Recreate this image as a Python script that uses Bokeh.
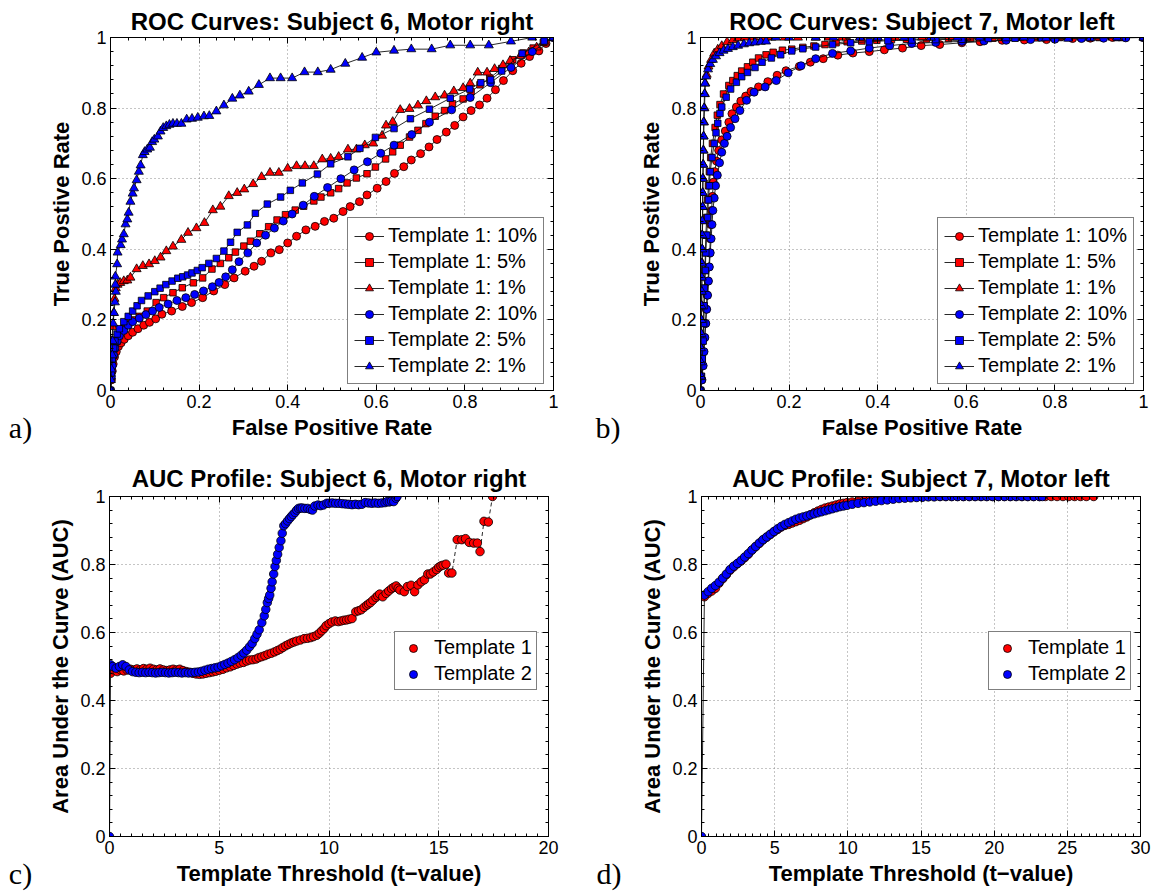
import numpy as np
from bokeh.plotting import figure
from bokeh.layouts import row, column
from bokeh.models import (Range1d, LinearAxis, FixedTicker, Legend, LegendItem, Title,
                          CustomLabelingPolicy)
from bokeh.embed import file_html
from bokeh.resources import INLINE

FONT = "Liberation Sans"
RED = "#ff0000"
BLUE = "#0000ff"

# ---------------- tick labels ----------------
ROC_TICKS = [0, 0.2, 0.4, 0.6, 0.8, 1]
ROC_TICK_LABELS = ["0", "0.2", "0.4", "0.6", "0.8", "1"]
AUC6_X_TICKS = [0, 5, 10, 15, 20]
AUC6_X_LABELS = ["0", "5", "10", "15", "20"]
AUC7_X_TICKS = [0, 5, 10, 15, 20, 25, 30]
AUC7_X_LABELS = ["0", "5", "10", "15", "20", "25", "30"]

ROC_LABELS = ["Template 1: 10%", "Template 1: 5%", "Template 1: 1%",
              "Template 2: 10%", "Template 2: 5%", "Template 2: 1%"]
AUC_LABELS = ["Template 1", "Template 2"]

# ---------------- a) ROC, Subject 6, Motor right  (FPR, TPR) ----------------
S6_T1_10 = [(0,0),(0.002,0.03),(0.004,0.055),(0.006,0.075),(0.009,0.095),(0.013,0.11),(0.018,0.125),(0.024,0.135),(0.031,0.145),(0.04,0.155),(0.05,0.165),(0.062,0.175),(0.075,0.185),(0.088,0.193),(0.102,0.203),(0.116,0.216),(0.138,0.225),(0.162,0.238),(0.183,0.249),(0.208,0.263),(0.233,0.282),(0.258,0.300),(0.279,0.319),(0.304,0.338),(0.324,0.352),(0.341,0.366),(0.362,0.390),(0.381,0.399),(0.400,0.418),(0.420,0.437),(0.441,0.455),(0.462,0.465),(0.483,0.479),(0.504,0.488),(0.525,0.507),(0.541,0.521),(0.562,0.535),(0.579,0.554),(0.602,0.573),(0.622,0.592),(0.641,0.615),(0.662,0.634),(0.679,0.653),(0.700,0.671),(0.719,0.690),(0.737,0.711),(0.758,0.732),(0.777,0.751),(0.796,0.775),(0.814,0.793),(0.833,0.809),(0.850,0.828),(0.869,0.852),(0.887,0.878),(0.908,0.906),(0.927,0.927),(0.946,0.946),(0.967,0.962),(0.983,0.983),(1.0,1.0)]
S6_T1_5 = [(0,0),(0.002,0.04),(0.004,0.07),(0.007,0.10),(0.01,0.12),(0.015,0.14),(0.02,0.155),(0.03,0.175),(0.04,0.19),(0.05,0.20),(0.065,0.21),(0.083,0.225),(0.103,0.249),(0.12,0.263),(0.141,0.277),(0.162,0.291),(0.187,0.305),(0.208,0.319),(0.229,0.344),(0.248,0.36),(0.267,0.376),(0.282,0.392),(0.301,0.409),(0.316,0.423),(0.337,0.444),(0.357,0.464),(0.376,0.483),(0.395,0.498),(0.417,0.511),(0.436,0.522),(0.459,0.537),(0.475,0.548),(0.497,0.560),(0.515,0.572),(0.534,0.588),(0.555,0.602),(0.579,0.614),(0.598,0.633),(0.621,0.656),(0.637,0.676),(0.654,0.695),(0.675,0.718),(0.694,0.737),(0.712,0.756),(0.733,0.777),(0.754,0.793),(0.772,0.812),(0.796,0.826),(0.814,0.846),(0.834,0.866),(0.856,0.885),(0.883,0.912),(0.908,0.937),(0.932,0.956),(0.954,0.970),(0.977,0.986),(1.0,1.0)]
S6_T1_1 = [(0,0),(0.001,0.04),(0.002,0.09),(0.003,0.14),(0.005,0.18),(0.007,0.22),(0.009,0.26),(0.012,0.29),(0.016,0.30),(0.022,0.305),(0.030,0.31),(0.038,0.312),(0.045,0.32),(0.059,0.344),(0.073,0.353),(0.087,0.358),(0.100,0.367),(0.113,0.377),(0.126,0.395),(0.141,0.408),(0.160,0.427),(0.175,0.447),(0.194,0.460),(0.212,0.475),(0.231,0.511),(0.248,0.521),(0.267,0.551),(0.286,0.560),(0.302,0.570),(0.322,0.585),(0.341,0.605),(0.360,0.617),(0.380,0.617),(0.400,0.629),(0.420,0.636),(0.439,0.636),(0.459,0.636),(0.478,0.655),(0.497,0.657),(0.515,0.662),(0.536,0.683),(0.555,0.683),(0.574,0.695),(0.593,0.700),(0.613,0.722),(0.622,0.751),(0.637,0.761),(0.654,0.795),(0.675,0.798),(0.694,0.808),(0.713,0.820),(0.733,0.831),(0.754,0.836),(0.775,0.848),(0.796,0.857),(0.812,0.870),(0.829,0.901),(0.850,0.901),(0.867,0.911),(0.886,0.922),(0.902,0.934),(0.925,0.948),(0.944,0.958),(0.962,0.972),(0.981,0.986),(1.0,1.0)]
S6_T2_10 = [(0,0),(0.002,0.04),(0.004,0.07),(0.007,0.10),(0.01,0.12),(0.015,0.14),(0.02,0.155),(0.03,0.17),(0.04,0.185),(0.05,0.195),(0.065,0.205),(0.08,0.215),(0.095,0.225),(0.11,0.235),(0.13,0.245),(0.15,0.255),(0.17,0.263),(0.19,0.272),(0.21,0.282),(0.23,0.294),(0.245,0.306),(0.26,0.322),(0.275,0.342),(0.29,0.365),(0.31,0.39),(0.33,0.418),(0.35,0.44),(0.37,0.46),(0.39,0.48),(0.41,0.50),(0.435,0.525),(0.46,0.55),(0.49,0.575),(0.52,0.60),(0.55,0.625),(0.58,0.648),(0.61,0.672),(0.64,0.695),(0.68,0.725),(0.72,0.76),(0.77,0.795),(0.812,0.83),(0.858,0.872),(0.904,0.915),(0.952,0.96),(1.0,1.0)]
S6_T2_5 = [(0,0),(0.002,0.05),(0.004,0.09),(0.007,0.12),(0.01,0.14),(0.015,0.16),(0.02,0.175),(0.03,0.195),(0.04,0.21),(0.05,0.225),(0.06,0.24),(0.07,0.255),(0.085,0.268),(0.1,0.28),(0.112,0.29),(0.125,0.30),(0.139,0.310),(0.152,0.318),(0.163,0.322),(0.174,0.327),(0.184,0.333),(0.196,0.34),(0.207,0.348),(0.222,0.36),(0.239,0.374),(0.256,0.395),(0.271,0.42),(0.286,0.448),(0.309,0.469),(0.327,0.502),(0.354,0.528),(0.384,0.548),(0.406,0.567),(0.433,0.588),(0.467,0.613),(0.497,0.642),(0.536,0.662),(0.563,0.686),(0.598,0.717),(0.640,0.742),(0.677,0.770),(0.72,0.797),(0.767,0.828),(0.811,0.854),(0.836,0.872),(0.858,0.88),(0.883,0.905),(0.929,0.955),(0.979,0.99),(1.0,1.0)]
S6_T2_1 = [(0,0),(0.001,0.03),(0.002,0.06),(0.004,0.10),(0.005,0.14),(0.006,0.19),(0.008,0.22),(0.010,0.25),(0.012,0.28),(0.011,0.30),(0.011,0.323),(0.015,0.358),(0.016,0.391),(0.023,0.412),(0.026,0.428),(0.030,0.443),(0.034,0.471),(0.038,0.485),(0.041,0.504),(0.045,0.535),(0.050,0.558),(0.053,0.573),(0.059,0.596),(0.064,0.620),(0.068,0.638),(0.073,0.667),(0.077,0.676),(0.083,0.683),(0.089,0.688),(0.094,0.704),(0.099,0.711),(0.107,0.720),(0.113,0.734),(0.119,0.744),(0.126,0.749),(0.133,0.753),(0.141,0.756),(0.150,0.756),(0.160,0.756),(0.172,0.768),(0.184,0.770),(0.197,0.773),(0.211,0.777),(0.223,0.778),(0.239,0.791),(0.256,0.808),(0.275,0.827),(0.292,0.836),(0.312,0.847),(0.335,0.866),(0.360,0.885),(0.384,0.885),(0.410,0.885),(0.438,0.902),(0.468,0.902),(0.497,0.909),(0.530,0.926),(0.568,0.943),(0.600,0.958),(0.640,0.963),(0.679,0.967),(0.725,0.967),(0.767,0.978),(0.812,0.978),(0.854,0.978),(0.904,0.989),(0.952,1.0),(1.0,1.0)]

# ---------------- b) ROC, Subject 7, Motor left ----------------
S7_T1_10 = [(0,0),(0.003,0.03),(0.005,0.07),(0.007,0.11),(0.009,0.15),(0.011,0.19),(0.013,0.23),(0.015,0.27),(0.017,0.31),(0.019,0.35),(0.021,0.39),(0.022,0.43),(0.023,0.47),(0.025,0.51),(0.027,0.55),(0.029,0.59),(0.032,0.62),(0.036,0.65),(0.041,0.68),(0.048,0.71),(0.056,0.735),(0.064,0.76),(0.071,0.784),(0.081,0.803),(0.091,0.82),(0.102,0.834),(0.114,0.847),(0.131,0.86),(0.152,0.875),(0.173,0.893),(0.193,0.906),(0.223,0.918),(0.248,0.93),(0.277,0.94),(0.310,0.95),(0.344,0.956),(0.381,0.96),(0.415,0.965),(0.456,0.97),(0.498,0.977),(0.540,0.98),(0.590,0.985),(0.631,0.988),(0.681,0.992),(0.731,0.993),(0.781,0.994),(0.84,0.997),(0.88,0.998),(0.93,1.0),(0.96,1.0),(1.0,1.0)]
S7_T1_5 = [(0,0),(0.002,0.04),(0.004,0.09),(0.005,0.14),(0.007,0.19),(0.008,0.24),(0.009,0.29),(0.010,0.34),(0.011,0.39),(0.012,0.44),(0.014,0.49),(0.016,0.54),(0.018,0.58),(0.020,0.62),(0.023,0.66),(0.027,0.70),(0.033,0.745),(0.038,0.78),(0.044,0.81),(0.052,0.84),(0.064,0.864),(0.073,0.878),(0.083,0.892),(0.093,0.905),(0.106,0.917),(0.118,0.93),(0.131,0.942),(0.148,0.951),(0.164,0.958),(0.185,0.964),(0.206,0.967),(0.231,0.972),(0.256,0.976),(0.281,0.98),(0.306,0.985),(0.331,0.988),(0.364,0.99),(0.398,0.992),(0.431,0.994),(0.465,0.995),(0.51,0.996),(0.56,0.997),(0.61,0.998),(0.66,0.998),(0.71,0.999),(0.76,0.999),(0.81,1.0),(0.86,1.0),(0.90,1.0),(0.95,1.0),(1.0,1.0)]
S7_T1_1 = [(0,0),(0.001,0.04),(0.001,0.08),(0.002,0.12),(0.002,0.16),(0.002,0.20),(0.003,0.24),(0.003,0.28),(0.003,0.32),(0.004,0.36),(0.004,0.40),(0.004,0.44),(0.005,0.48),(0.005,0.52),(0.005,0.56),(0.006,0.60),(0.006,0.64),(0.007,0.68),(0.007,0.72),(0.008,0.76),(0.009,0.80),(0.010,0.84),(0.011,0.87),(0.014,0.895),(0.018,0.918),(0.024,0.937),(0.031,0.955),(0.039,0.966),(0.048,0.976),(0.06,0.987),(0.073,0.993),(0.085,0.998),(0.1,1.0),(0.12,1.0),(0.14,1.0),(0.16,1.0),(0.19,1.0),(0.22,1.0),(0.26,1.0),(0.29,1.0),(0.32,1.0),(0.36,1.0),(0.40,1.0),(0.44,1.0),(0.47,1.0),(0.50,1.0),(0.53,1.0),(0.57,1.0),(0.60,1.0),(0.64,1.0),(0.68,1.0),(0.72,1.0),(0.77,1.0),(0.81,1.0),(0.86,1.0),(0.90,1.0),(0.95,1.0),(1.0,1.0)]
S7_T2_10 = [(0,0),(0.003,0.03),(0.006,0.07),(0.008,0.11),(0.010,0.15),(0.012,0.19),(0.014,0.23),(0.016,0.27),(0.018,0.31),(0.020,0.35),(0.022,0.39),(0.024,0.43),(0.026,0.47),(0.028,0.51),(0.031,0.545),(0.034,0.58),(0.038,0.61),(0.043,0.645),(0.048,0.675),(0.054,0.70),(0.06,0.72),(0.068,0.745),(0.078,0.77),(0.089,0.793),(0.104,0.822),(0.121,0.845),(0.146,0.86),(0.171,0.878),(0.198,0.90),(0.227,0.92),(0.26,0.94),(0.298,0.955),(0.339,0.962),(0.381,0.97),(0.427,0.977),(0.477,0.983),(0.531,0.986),(0.59,0.989),(0.64,0.99),(0.69,0.992),(0.745,0.994),(0.80,0.995),(0.86,0.997),(0.91,0.998),(0.96,0.999),(1.0,1.0)]
S7_T2_5 = [(0,0),(0.002,0.04),(0.004,0.09),(0.006,0.14),(0.007,0.19),(0.008,0.24),(0.009,0.29),(0.011,0.34),(0.012,0.39),(0.014,0.44),(0.016,0.49),(0.018,0.54),(0.020,0.58),(0.022,0.62),(0.026,0.66),(0.031,0.70),(0.035,0.73),(0.039,0.757),(0.044,0.785),(0.048,0.803),(0.058,0.831),(0.068,0.854),(0.081,0.873),(0.093,0.889),(0.106,0.901),(0.123,0.915),(0.139,0.93),(0.16,0.942),(0.181,0.951),(0.206,0.962),(0.231,0.968),(0.26,0.973),(0.298,0.98),(0.339,0.985),(0.381,0.988),(0.423,0.991),(0.477,0.993),(0.531,0.994),(0.59,0.995),(0.65,0.997),(0.71,0.998),(0.77,0.999),(0.83,1.0),(0.88,1.0),(0.94,1.0),(1.0,1.0)]
S7_T2_1 = [(0,0),(0.001,0.04),(0.001,0.08),(0.001,0.12),(0.002,0.16),(0.002,0.20),(0.002,0.24),(0.003,0.28),(0.003,0.32),(0.003,0.36),(0.004,0.40),(0.004,0.44),(0.004,0.48),(0.005,0.52),(0.005,0.56),(0.005,0.60),(0.006,0.64),(0.006,0.68),(0.007,0.72),(0.007,0.76),(0.008,0.80),(0.009,0.84),(0.010,0.87),(0.013,0.89),(0.017,0.91),(0.022,0.925),(0.028,0.937),(0.035,0.947),(0.043,0.956),(0.052,0.963),(0.062,0.968),(0.073,0.973),(0.085,0.977),(0.098,0.981),(0.11,0.984),(0.123,0.986),(0.136,0.988),(0.148,0.989),(0.17,1.0),(0.2,1.0),(0.26,1.0),(0.3,1.0),(0.36,1.0),(0.4,1.0),(0.46,1.0),(0.52,1.0),(0.58,1.0),(0.63,1.0),(0.69,0.998),(0.73,1.0),(0.78,0.998),(0.83,0.997),(0.88,0.998),(0.94,1.0),(1.0,1.0)]

# ---------------- c) AUC profile, Subject 6  (t-threshold, AUC) ----------------
AUC6_T1 = [(0.05,0.48),(0.2,0.49),(0.35,0.485),(0.5,0.49),(0.65,0.487),(0.8,0.49),(0.95,0.492),(1.1,0.49),(1.25,0.493),(1.4,0.49),(1.55,0.494),(1.7,0.492),(1.85,0.495),(2.0,0.492),(2.15,0.49),(2.3,0.493),(2.45,0.49),(2.6,0.488),(2.75,0.49),(2.9,0.492),(3.05,0.49),(3.2,0.492),(3.35,0.488),(3.5,0.485),(3.65,0.483),(3.8,0.48),(3.95,0.478),(4.1,0.477),(4.25,0.478),(4.4,0.48),(4.55,0.482),(4.7,0.484),(4.84,0.486),(5.0,0.489),(5.17,0.492),(5.33,0.496),(5.5,0.499),(5.65,0.503),(5.8,0.507),(5.95,0.51),(6.1,0.512),(6.25,0.516),(6.38,0.519),(6.53,0.52),(6.68,0.522),(6.8,0.526),(6.94,0.529),(7.08,0.532),(7.22,0.536),(7.37,0.539),(7.52,0.543),(7.65,0.547),(7.78,0.551),(7.9,0.556),(8.03,0.561),(8.15,0.565),(8.28,0.569),(8.4,0.572),(8.53,0.575),(8.7,0.578),(8.87,0.582),(9.02,0.583),(9.17,0.585),(9.3,0.588),(9.45,0.592),(9.56,0.598),(9.67,0.605),(9.78,0.612),(9.87,0.62),(10.0,0.626),(10.13,0.631),(10.29,0.634),(10.42,0.632),(10.55,0.634),(10.68,0.636),(10.8,0.637),(10.92,0.639),(11.05,0.641),(11.22,0.661),(11.35,0.664),(11.47,0.667),(11.6,0.674),(11.72,0.680),(11.8,0.684),(11.89,0.688),(12.0,0.695),(12.14,0.703),(12.22,0.708),(12.31,0.713),(12.45,0.705),(12.6,0.715),(12.72,0.722),(12.85,0.729),(12.95,0.733),(13.06,0.737),(13.15,0.73),(13.23,0.725),(13.43,0.72),(13.57,0.735),(13.74,0.739),(13.9,0.72),(14.05,0.74),(14.2,0.749),(14.35,0.755),(14.5,0.772),(14.62,0.772),(14.75,0.778),(14.9,0.785),(15.0,0.792),(15.1,0.796),(15.2,0.798),(15.33,0.801),(15.45,0.775),(15.6,0.775),(15.84,0.873),(16.05,0.873),(16.22,0.876),(16.39,0.865),(16.59,0.863),(16.76,0.863),(16.88,0.838),(17.06,0.927),(17.26,0.925),(17.45,1.0)]
AUC6_T2 = [(0,0),(0.05,0.505),(0.15,0.50),(0.3,0.495),(0.45,0.50),(0.6,0.505),(0.75,0.50),(0.9,0.49),(1.05,0.485),(1.2,0.483),(1.35,0.482),(1.5,0.483),(1.65,0.482),(1.8,0.483),(1.95,0.482),(2.1,0.481),(2.25,0.482),(2.4,0.483),(2.55,0.482),(2.7,0.481),(2.85,0.482),(3.0,0.483),(3.15,0.482),(3.3,0.481),(3.45,0.482),(3.6,0.481),(3.75,0.482),(3.9,0.483),(4.05,0.484),(4.2,0.486),(4.35,0.489),(4.5,0.492),(4.65,0.494),(4.8,0.496),(4.95,0.498),(5.1,0.502),(5.25,0.506),(5.4,0.51),(5.55,0.515),(5.7,0.52),(5.85,0.526),(6.0,0.533),(6.12,0.54),(6.25,0.548),(6.38,0.558),(6.5,0.568),(6.62,0.582),(6.72,0.595),(6.82,0.608),(6.94,0.629),(7.05,0.649),(7.12,0.668),(7.19,0.688),(7.25,0.70),(7.30,0.71),(7.36,0.73),(7.41,0.749),(7.48,0.772),(7.54,0.794),(7.6,0.812),(7.66,0.83),(7.73,0.85),(7.81,0.87),(7.87,0.892),(7.94,0.914),(8.02,0.92),(8.11,0.928),(8.2,0.935),(8.28,0.941),(8.36,0.947),(8.45,0.953),(8.53,0.96),(8.61,0.965),(8.7,0.966),(8.78,0.966),(8.9,0.965),(9.03,0.965),(9.15,0.962),(9.25,0.96),(9.35,0.972),(9.5,0.975),(9.62,0.973),(9.75,0.975),(9.9,0.98),(10.0,0.98),(10.15,0.981),(10.3,0.98),(10.45,0.98),(10.6,0.979),(10.75,0.978),(10.9,0.977),(11.05,0.976),(11.2,0.977),(11.35,0.976),(11.5,0.977),(11.65,0.982),(11.8,0.981),(11.95,0.98),(12.1,0.981),(12.25,0.98),(12.4,0.981),(12.55,0.982),(12.65,0.985),(12.75,0.984),(12.85,0.986),(12.95,0.985),(13.05,0.995),(13.1,1.0)]

# ---------------- d) AUC profile, Subject 7 ----------------
AUC7_T1 = [(0.2,0.705),(0.45,0.715),(0.7,0.722),(0.95,0.73),(1.2,0.745),(1.45,0.758),(1.7,0.77),(1.95,0.783),(2.2,0.793),(2.45,0.802),(2.7,0.81),(2.95,0.82),(3.2,0.83),(3.45,0.842),(3.7,0.852),(3.95,0.862),(4.2,0.872),(4.45,0.88),(4.7,0.888),(4.95,0.896),(5.2,0.903),(5.45,0.91),(5.7,0.915),(5.95,0.918),(6.2,0.922),(6.45,0.926),(6.7,0.93),(6.95,0.935),(7.2,0.94),(7.45,0.946),(7.7,0.952),(7.95,0.957),(8.2,0.962),(8.45,0.966),(8.7,0.969),(8.95,0.972),(9.2,0.975),(9.45,0.978),(9.7,0.98),(9.95,0.982),(10.3,0.984),(10.7,0.986),(11.1,0.988),(11.5,0.99),(11.9,0.991),(12.3,0.993),(12.7,0.995),(13.1,0.996),(13.5,0.997),(13.9,0.998),(14.3,0.998),(14.7,0.999),(15.1,0.999),(15.5,1.0),(15.9,1.0),(16.3,1.0),(16.7,1.0),(17.1,1.0),(17.5,1.0),(17.9,1.0),(18.3,1.0),(18.7,1.0),(19.1,1.0),(19.5,1.0),(19.9,1.0),(20.3,1.0),(20.7,1.0),(21.1,1.0),(21.5,1.0),(21.9,1.0),(22.3,1.0),(22.7,1.0),(23.1,1.0),(23.5,1.0),(23.9,1.0),(24.3,1.0),(24.7,1.0),(25.1,1.0),(25.5,1.0),(25.9,1.0),(26.3,1.0),(26.8,1.0)]
AUC7_T2 = [(0,0),(0.2,0.71),(0.45,0.72),(0.7,0.73),(0.95,0.738),(1.2,0.748),(1.45,0.76),(1.7,0.772),(1.95,0.785),(2.2,0.795),(2.45,0.803),(2.7,0.812),(2.95,0.822),(3.2,0.832),(3.45,0.843),(3.7,0.853),(3.95,0.863),(4.2,0.873),(4.45,0.881),(4.7,0.889),(4.95,0.897),(5.2,0.905),(5.45,0.912),(5.7,0.918),(5.95,0.923),(6.2,0.928),(6.45,0.933),(6.7,0.937),(6.95,0.94),(7.2,0.943),(7.45,0.946),(7.7,0.949),(7.95,0.952),(8.2,0.955),(8.45,0.958),(8.7,0.961),(8.95,0.964),(9.2,0.967),(9.45,0.97),(9.7,0.972),(9.95,0.974),(10.3,0.977),(10.7,0.98),(11.1,0.982),(11.5,0.984),(11.9,0.986),(12.3,0.988),(12.7,0.99),(13.1,0.992),(13.5,0.994),(13.9,0.995),(14.3,0.996),(14.7,0.997),(15.1,0.998),(15.5,0.999),(15.9,0.999),(16.3,1.0),(16.7,1.0),(17.1,1.0),(17.5,1.0),(17.9,1.0),(18.3,1.0),(18.7,1.0),(19.1,1.0),(19.5,1.0),(19.9,1.0),(20.3,1.0),(20.7,1.0),(21.1,1.0),(21.5,1.0),(21.9,1.0),(22.3,1.0),(22.7,1.0),(23.1,1.0),(23.3,1.0)]

PANEL_H = 446
HIDE_LABELS = "for (const i of indices) indices.unset(i)"


def xs_of(pts):
    return [q[0] for q in pts]


def ys_of(pts):
    return [q[1] for q in pts]


def style_axis(ax, ticks, labels, minor, show_labels):
    ax.ticker = FixedTicker(ticks=ticks, minor_ticks=minor)
    ax.major_tick_in = 6
    ax.major_tick_out = 0
    ax.minor_tick_in = 3
    ax.minor_tick_out = 0
    ax.major_tick_line_color = "black"
    ax.minor_tick_line_color = "black"
    ax.axis_line_color = "black"
    ax.axis_line_width = 1
    if show_labels:
        ax.major_label_overrides = {float(t): l for t, l in zip(ticks, labels)}
        ax.major_label_text_font = FONT
        ax.major_label_text_font_size = "18px"
        ax.major_label_text_color = "black"
        ax.major_label_standoff = 4
        ax.axis_label_text_font = FONT
        ax.axis_label_text_font_size = "22px"
        ax.axis_label_text_font_style = "bold"
        ax.axis_label_text_color = "black"
        ax.axis_label_standoff = 4
    else:
        ax.major_label_text_font_size = "0px"
        ax.major_label_standoff = 0
        ax.major_label_policy = CustomLabelingPolicy(code=HIDE_LABELS)


def tag_fig(tag, w):
    # narrow blank figure whose (invisible) x-axis carries the panel tag as its label
    t = figure(width=w, height=PANEL_H, output_backend="svg", toolbar_location=None,
               x_range=Range1d(0, 1), y_range=Range1d(0, 1), min_border=0,
               y_axis_location=None, title=None)
    t.outline_line_color = None
    t.grid.visible = False
    t.background_fill_color = "white"
    t.border_fill_color = "white"
    ax = t.below[0]
    ax.ticker = FixedTicker(ticks=[])
    ax.axis_line_color = None
    ax.major_tick_line_color = None
    ax.minor_tick_line_color = None
    ax.major_tick_out = 0
    ax.major_tick_in = 0
    ax.major_label_text_font_size = "0px"
    ax.major_label_standoff = 0
    ax.major_label_policy = CustomLabelingPolicy(code=HIDE_LABELS)
    ax.axis_label = tag
    ax.axis_label_text_font = "Liberation Serif"
    ax.axis_label_text_font_size = "30px"
    ax.axis_label_text_font_style = "normal"
    ax.axis_label_text_color = "black"
    ax.axis_label_standoff = 20
    return t


def make_panel(title, width, frame_left, borders, x_end, xticks, xlabels, xminor, xlabel, ylabel,
               title_standoff):
    r, t, b = borders
    p = figure(width=width, height=PANEL_H, output_backend="svg", toolbar_location=None, title=None,
               x_range=Range1d(0, x_end), y_range=Range1d(0, 1),
               min_border_left=frame_left, min_border_right=r, min_border_top=t, min_border_bottom=b)
    p.outline_line_color = "black"
    p.background_fill_color = "white"
    p.border_fill_color = "white"
    top = LinearAxis()
    rgt = LinearAxis()
    p.add_layout(top, "above")
    p.add_layout(rgt, "right")
    p.add_layout(Title(text=title, align="center", text_font=FONT, text_font_size="24px",
                       text_font_style="bold", text_color="black", standoff=title_standoff), "above")
    yminor = list(np.arange(0, 1.0001, 0.04))
    style_axis(p.below[0], xticks, xlabels, xminor, True)
    style_axis(top, xticks, xlabels, xminor, False)
    style_axis(p.left[0], ROC_TICKS, ROC_TICK_LABELS, yminor, True)
    style_axis(rgt, ROC_TICKS, ROC_TICK_LABELS, yminor, False)
    p.below[0].axis_label = xlabel
    p.left[0].axis_label = ylabel
    for g in (p.xgrid, p.ygrid):
        g.grid_line_color = "#8a8a8a"
        g.grid_line_dash = "1 3"
        g.grid_line_width = 1
    return p


def make_legend(items, loc, glyph_w, standoff, pad):
    return Legend(items=items, location=loc, label_text_font=FONT, label_text_font_size="20px",
                  label_text_color="black", glyph_width=glyph_w, glyph_height=20, label_height=23,
                  spacing=3, padding=pad, margin=0, label_standoff=standoff,
                  border_line_color="black", border_line_width=1,
                  background_fill_color="white", background_fill_alpha=1)


roc_minor = list(np.arange(0, 1.0001, 0.04))


def roc_panel(title, width, frame_left, borders, series):
    p = make_panel(title, width, frame_left, borders, 1, ROC_TICKS, ROC_TICK_LABELS, roc_minor,
                   "False Positive Rate", "True Postive Rate", 6)
    specs = [(RED, "circle", 8), (RED, "square", 6.5), (RED, "triangle", 9),
             (BLUE, "circle", 8), (BLUE, "square", 6.5), (BLUE, "triangle", 9)]
    items = []
    for pts, (col, mk, sz), lab in zip(series, specs, ROC_LABELS):
        ln = p.line(xs_of(pts), ys_of(pts), line_color="#111111", line_width=0.9)
        sc = p.scatter(xs_of(pts), ys_of(pts), marker=mk, size=sz, fill_color=col,
                       line_color="black", line_width=0.8)
        items.append(LegendItem(label=lab, renderers=[ln, sc]))
    p.add_layout(make_legend(items, (237, 6), 30, 4, 6))
    return p


def auc_panel(title, width, frame_left, borders, x_end, xticks, xlabels, series, dashes, loc):
    xminor = list(np.arange(0, x_end + 0.001, 0.5))
    p = make_panel(title, width, frame_left, borders, x_end, xticks, xlabels, xminor,
                   "Template Threshold (t\u2212value)", "Area Under the Curve (AUC)", 10)
    items = []
    for pts, col, dash, lab in zip(series, [RED, BLUE], dashes, AUC_LABELS):
        p.line(xs_of(pts), ys_of(pts), line_color="#111111", line_width=0.9, line_dash=dash)
        sc = p.scatter(xs_of(pts), ys_of(pts), marker="circle", size=8.5, fill_color=col,
                       line_color="black", line_width=0.8)
        items.append(LegendItem(label=lab, renderers=[sc]))
    p.add_layout(make_legend(items, loc, 28, 7, 4))
    return p


# tag widths chosen so each tag sits where the reference shows it
ta = tag_fig("a)", 40)
tb = tag_fig("b)", 55)
tc = tag_fig("c)", 40)
td = tag_fig("d)", 57)

pa = roc_panel("ROC Curves: Subject 6, Motor right", 540, 70, (27, 37, 55),
               [S6_T1_10, S6_T1_5, S6_T1_1, S6_T2_10, S6_T2_5, S6_T2_1])
pb = roc_panel("ROC Curves: Subject 7, Motor left", 525, 65, (17, 37, 55),
               [S7_T1_10, S7_T1_5, S7_T1_1, S7_T2_10, S7_T2_5, S7_T2_1])
pc = auc_panel("AUC Profile: Subject 6, Motor right", 540, 69, (32, 50, 56), 20,
               AUC6_X_TICKS, AUC6_X_LABELS, [AUC6_T1, AUC6_T2], ["4 3", "solid"], (285, 146))
pd = auc_panel("AUC Profile: Subject 7, Motor left", 523, 61, (20, 50, 56), 30,
               AUC7_X_TICKS, AUC7_X_LABELS, [AUC7_T1, AUC7_T2], ["4 3", "solid"], (287, 146))

layout = column(row(ta, pa, tb, pb, spacing=0), row(tc, pc, td, pd, spacing=0), spacing=0)
open("out.html", "w").write(file_html(layout, INLINE))
